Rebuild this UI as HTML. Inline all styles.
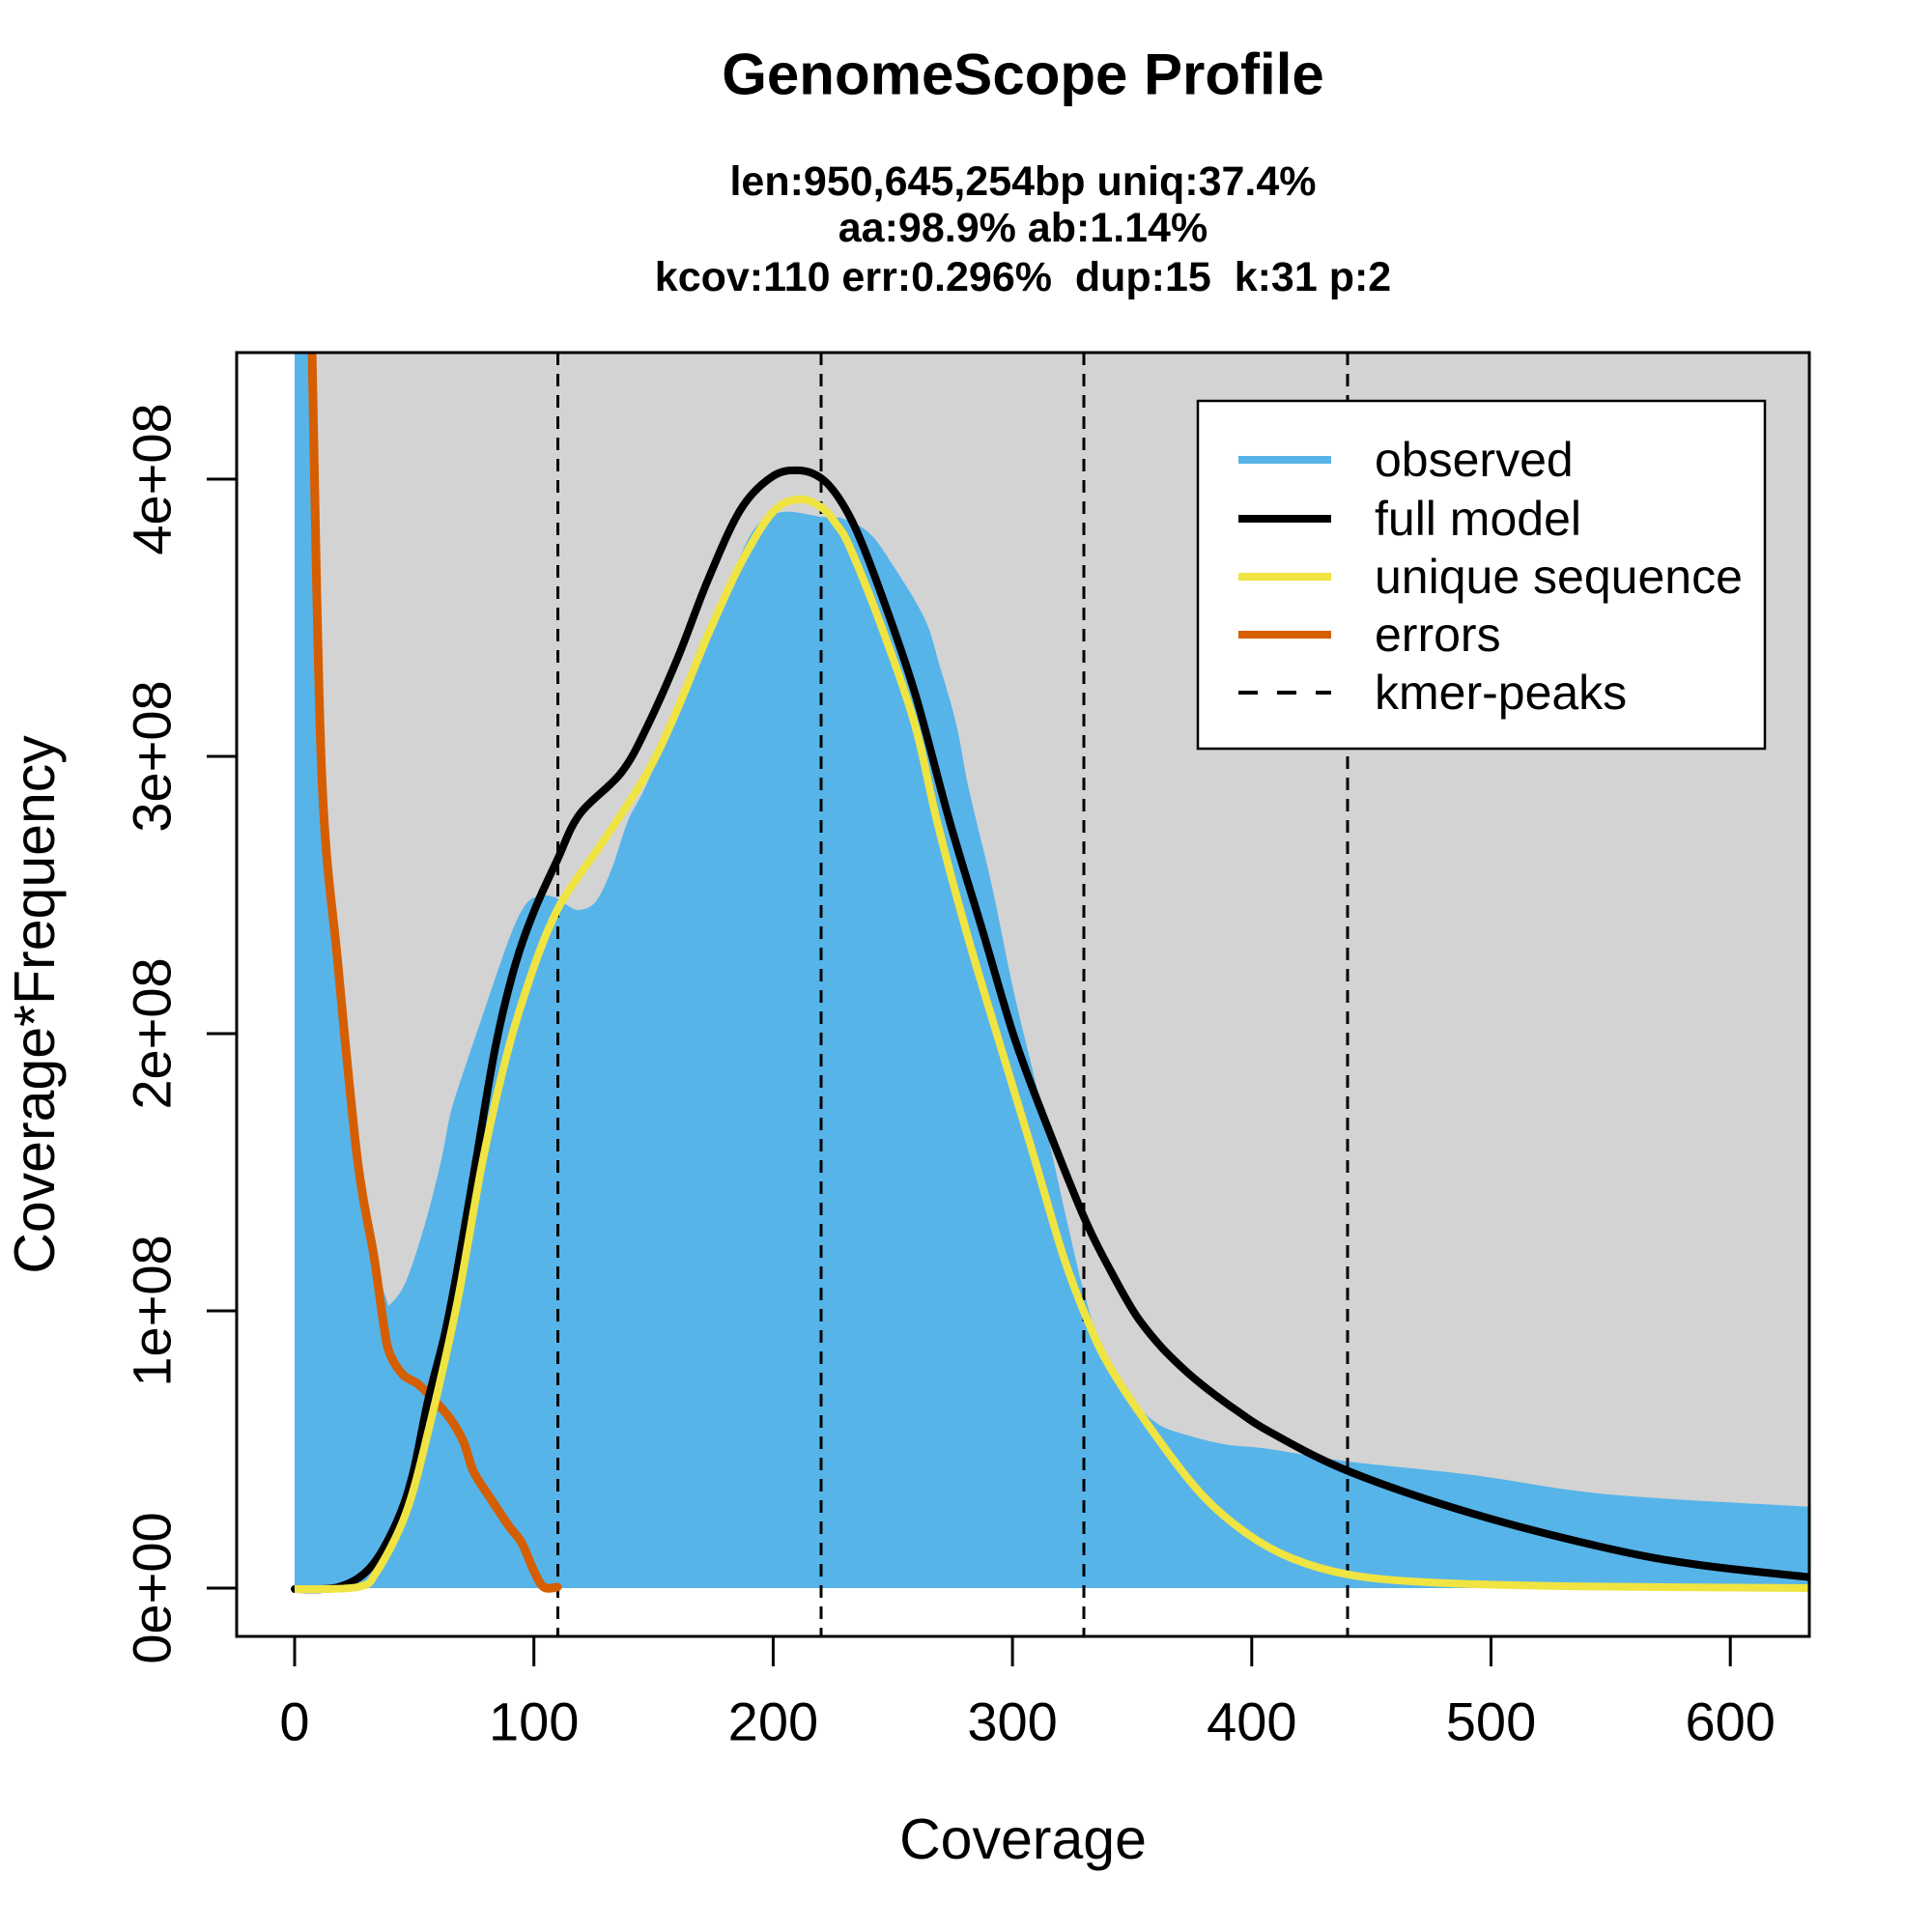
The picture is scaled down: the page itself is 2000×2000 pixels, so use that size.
<!DOCTYPE html>
<html><head><meta charset="utf-8"><style>html,body{margin:0;padding:0;background:#fff}svg{display:block}</style></head>
<body>
<svg id="s" width="2000" height="2000" xmlns="http://www.w3.org/2000/svg" font-family="Liberation Sans, Arial, sans-serif">
<rect width="2000" height="2000" fill="#fff"/>
<defs><clipPath id="c"><rect x="245" y="365" width="1628" height="1329"/></clipPath></defs>
<rect x="305" y="365" width="1568" height="1279" fill="#D3D3D3"/>
<g clip-path="url(#c)">
<path id="obs" fill="#56B4E9"/>
<g stroke="#000" stroke-width="3" stroke-dasharray="13,9">
<line x1="577.5" y1="365" x2="577.5" y2="1694"/>
<line x1="850" y1="365" x2="850" y2="1694"/>
<line x1="1122" y1="365" x2="1122" y2="1694"/>
<line x1="1395" y1="365" x2="1395" y2="1694"/>
</g>
<path id="err" fill="none" stroke="#D55E00" stroke-width="9" stroke-linejoin="round" stroke-linecap="round"/>
<path id="full" fill="none" stroke="#000" stroke-width="8" stroke-linejoin="round" stroke-linecap="round"/>
<path id="uniq" fill="none" stroke="#F0E442" stroke-width="8" stroke-linejoin="round"/>
</g>
<rect x="245" y="365" width="1628" height="1329" fill="none" stroke="#000" stroke-width="3"/>
<g id="ticks" stroke="#000" stroke-width="3"></g>
<g id="labels" font-size="56" fill="#000"></g>
<text x="1059" y="1904" font-size="59" text-anchor="middle" dominant-baseline="central">Coverage</text>
<text transform="translate(36,1040) rotate(-90)" font-size="59" text-anchor="middle" dominant-baseline="central">Coverage*Frequency</text>
<text x="1059" y="77" font-size="60" font-weight="bold" text-anchor="middle" dominant-baseline="central">GenomeScope Profile</text>
<g font-size="43" font-weight="bold" text-anchor="middle">
<text x="1059" y="188" dominant-baseline="central">len:950,645,254bp uniq:37.4%</text>
<text x="1059" y="236" dominant-baseline="central">aa:98.9% ab:1.14%</text>
<text x="1059" y="287" dominant-baseline="central" xml:space="preserve">kcov:110 err:0.296%  dup:15  k:31 p:2</text>
</g>
<rect x="1240" y="415" width="587" height="360" fill="#fff" stroke="#000" stroke-width="2.5"/>
<line x1="1282" y1="476" x2="1378" y2="476" stroke="#56B4E9" stroke-width="8"/>
<line x1="1282" y1="537" x2="1378" y2="537" stroke="#000" stroke-width="8"/>
<line x1="1282" y1="597" x2="1378" y2="597" stroke="#F0E442" stroke-width="8"/>
<line x1="1282" y1="657" x2="1378" y2="657" stroke="#D55E00" stroke-width="8"/>
<line x1="1282" y1="717" x2="1378" y2="717" stroke="#000" stroke-width="4" stroke-dasharray="20,20"/>
<g font-size="50">
<text x="1423" y="476" dominant-baseline="central">observed</text>
<text x="1423" y="537" dominant-baseline="central">full model</text>
<text x="1423" y="597" dominant-baseline="central">unique sequence</text>
<text x="1423" y="657" dominant-baseline="central">errors</text>
<text x="1423" y="717" dominant-baseline="central">kmer-peaks</text>
</g>
</svg>
<script>
function cr(p){var d='M'+p[0][0]+','+p[0][1];for(var i=0;i<p.length-1;i++){var p0=p[i-1]||p[i],p1=p[i],p2=p[i+1],p3=p[i+2]||p2;var c1x=p1[0]+(p2[0]-p0[0])/6,c1y=p1[1]+(p2[1]-p0[1])/6,c2x=p2[0]-(p3[0]-p1[0])/6,c2y=p2[1]-(p3[1]-p1[1])/6;d+='C'+c1x.toFixed(1)+','+c1y.toFixed(1)+' '+c2x.toFixed(1)+','+c2y.toFixed(1)+' '+p2[0]+','+p2[1];}return d;}
var obs=[[305,300],[322,300],[326,365],[333,800],[350,1000],[370,1200],[387,1300],[400,1345],[404,1350],[420,1327],[440,1267],[457,1200],[467,1150],[483,1100],[500,1050],[517,1000],[533,957],[547,933],[563,927],[577,930],[587,937],[600,942],[617,933],[633,900],[650,850],[667,817],[689,766],[715,700],[740,638],[762,585],[783,545],[810,530],[850,535],[873,537],[900,552],[923,583],[957,640],[973,690],[990,750],[1003,817],[1027,918],[1050,1029],[1077,1141],[1107,1275],[1122,1337],[1143,1405],[1173,1450],[1197,1473],[1220,1483],[1267,1495],[1314,1500],[1396,1513],[1525,1527],[1665,1547],[1876,1560]];
var full=[[305,1645],[350,1643],[383,1623],[410,1577],[427,1527],[443,1450],[460,1383],[473,1317],[493,1200],[513,1083],[533,1000],[553,943],[577,890],[600,843],[643,800],[670,752],[702,680],[733,600],[767,527],[800,493],[828,487],[850,495],[868,515],[887,550],[913,617],[947,717],[983,850],[1017,963],[1050,1074],[1083,1163],[1123,1262],[1150,1316],[1175,1360],[1200,1392],[1225,1417],[1250,1438],[1280,1460],[1314,1482],[1396,1523],[1525,1567],[1665,1603],[1759,1620],[1876,1633]];
var uniq=[[305,1645],[370,1643],[390,1627],[420,1567],[443,1483],[473,1350],[500,1200],[527,1083],[553,1000],[573,950],[590,920],[627,867],[670,800],[700,737],[733,657],[767,583],[800,530],[827,517],[850,525],[866,543],[880,567],[913,650],[947,750],[970,850],[1000,963],[1033,1074],[1067,1186],[1100,1298],[1125,1365],[1150,1417],[1197,1487],[1244,1547],[1290,1587],[1337,1613],[1396,1630],[1478,1638],[1618,1642],[1876,1644]];
var err=[[321,300],[323,365],[333,800],[350,1000],[370,1200],[387,1300],[397,1370],[403,1400],[417,1423],[433,1433],[450,1450],[467,1470],[480,1493],[490,1523],[507,1550],[527,1580],[540,1597],[553,1627],[563,1643],[577,1643]];
document.getElementById('obs').setAttribute('d',cr(obs)+'L1876,1644L305,1644Z');
document.getElementById('full').setAttribute('d',cr(full));
document.getElementById('uniq').setAttribute('d',cr(uniq));
document.getElementById('err').setAttribute('d',cr(err));
var X=function(c){return 305+c*2.477},Y=function(v){return 1644-v*287};
var h='',hl='';
for(var i=0;i<=6;i++){var x=X(i*100);h+='<line x1="'+x+'" y1="1694" x2="'+x+'" y2="1725"/>';hl+='<text x="'+x+'" y="1782" text-anchor="middle" dominant-baseline="central">'+(i*100)+'</text>';}
var yl=['0e+00','1e+08','2e+08','3e+08','4e+08'];
for(var j=0;j<=4;j++){var y=Y(j);h+='<line x1="214" y1="'+y+'" x2="245" y2="'+y+'"/>';hl+='<text transform="translate(157,'+y+') rotate(-90)" text-anchor="middle" dominant-baseline="central">'+yl[j]+'</text>';}
document.getElementById('ticks').innerHTML=h;document.getElementById('labels').innerHTML=hl;
</script>
</body></html>
